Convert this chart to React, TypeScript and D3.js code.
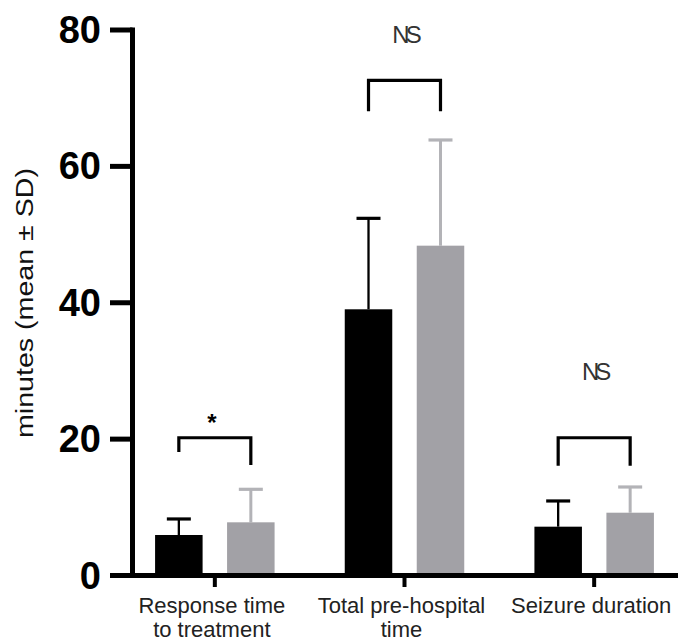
import React from "react";
import * as d3 from "d3";

// categories on the x axis (two lines each)
const categories = ["Response time to treatment", "Total pre-hospital time", "Seizure duration"];
const categoryLines = [
  ["Response time", "to treatment"],
  ["Total pre-hospital", "time"],
  ["Seizure duration"],
];

const series = ["group A", "group B"];
const meanA = [5.94, 39.04, 7.16];
const sdTopA = [8.29, 52.38, 10.93];
const meanB = [7.8, 48.37, 9.21];
const sdTopB = [12.64, 63.87, 12.98];

// significance brackets: top, left leg end, right leg end, label
const bracketTop = [20.2, 72.6, 20.2];
const bracketLeftEnd = [18.1, 68.1, 16.1];
const bracketRightEnd = [16.2, 68.1, 16.1];
const bracketLabel = ["*", "NS", "NS"];
const labelValue = [21.2, 78.1, 28.6];

const yTicks = [0, 20, 40, 60, 80];

const W = 678;
const H = 641;
const FONT = "'Liberation Sans', Arial, sans-serif";
const BAR_COLORS = ["#000000", "#a2a1a6"];
const ERR_COLORS = ["#000000", "#b3b3b7"];

export default function App() {
  const y = d3.scaleLinear().domain([0, 80]).range([575.5, 30]);
  const x = d3.scaleBand<string>().domain(categories).range([120, 689]);
  const xs = d3.scaleBand<string>().domain(series).range([-59.75, 59.75]).paddingInner(0.34);
  const bw = xs.bandwidth();

  const means = [meanA, meanB];
  const tops = [sdTopA, sdTopB];

  const cx = (c: string) => (x(c) as number) + x.bandwidth() / 2;
  const sx = (c: string, s: string) => cx(c) + (xs(s) as number) + bw / 2;

  return (
    <svg
      width={W}
      height={H}
      style={{ position: "absolute", left: 0, top: 0, background: "#fff" }}
      fontFamily={FONT}
    >
      {/* bars + error bars */}
      {categories.map((c, i) =>
        series.map((s, j) => {
          const x0 = cx(c) + (xs(s) as number);
          const mid = sx(c, s);
          return (
            <g key={`${c}-${s}`}>
              <line
                x1={mid}
                x2={mid}
                y1={y(means[j][i])}
                y2={y(tops[j][i])}
                stroke={ERR_COLORS[j]}
                strokeWidth={j === 0 ? 2.3 : 3}
              />
              <line
                x1={mid - 12}
                x2={mid + 12}
                y1={y(tops[j][i])}
                y2={y(tops[j][i])}
                stroke={ERR_COLORS[j]}
                strokeWidth={3.2}
              />
              <rect
                x={x0}
                y={y(means[j][i])}
                width={bw}
                height={y(0) - y(means[j][i])}
                fill={BAR_COLORS[j]}
              />
            </g>
          );
        })
      )}

      {/* brackets */}
      {categories.map((c, i) => {
        const l = sx(c, series[0]);
        const r = sx(c, series[1]);
        const p = `M${l},${y(bracketLeftEnd[i])}V${y(bracketTop[i])}H${r}V${y(bracketRightEnd[i])}`;
        const isStar = bracketLabel[i] === "*";
        return (
          <g key={`br-${c}`}>
            <path d={p} fill="none" stroke="#000" strokeWidth={3.2} />
            <text
              x={isStar ? (l + r) / 2 - 3 : (l + r) / 2 + 0.5}
              y={y(labelValue[i])}
              textAnchor="middle"
              fontSize={isStar ? 24 : 24}
              fontWeight={isStar ? "bold" : "normal"}
              letterSpacing={isStar ? 0 : -4}
              fill={isStar ? "#000" : "#333"}
            >
              {bracketLabel[i]}
            </text>
          </g>
        );
      })}

      {/* y axis */}
      <line x1={132.5} x2={132.5} y1={27.5} y2={578} stroke="#000" strokeWidth={5} />
      {yTicks.map((t) => (
        <g key={t}>
          <line x1={110} x2={132.5} y1={y(t)} y2={y(t)} stroke="#000" strokeWidth={5} />
          <text
            x={101}
            y={y(t) + 13}
            textAnchor="end"
            fontSize={38}
            fontWeight="bold"
            fill="#000"
          >
            {t}
          </text>
        </g>
      ))}
      <text
        transform={`translate(33, 303) rotate(-90)`}
        textAnchor="middle"
        fontSize={23}
        textLength={270}
        lengthAdjust="spacingAndGlyphs"
        fill="#111"
      >
        minutes (mean ± SD)
      </text>

      {/* x axis */}
      <line x1={130} x2={678} y1={575.5} y2={575.5} stroke="#000" strokeWidth={5} />
      {categories.map((c, i) => (
        <g key={`xt-${c}`}>
          <line x1={cx(c)} x2={cx(c)} y1={575.5} y2={587} stroke="#000" strokeWidth={4} />
          <text textAnchor="middle" fontSize={22} fill="#222">
            {categoryLines[i].map((ln, k) => (
              <tspan key={k} x={cx(c) - 3} y={613 + k * 24}>
                {ln}
              </tspan>
            ))}
          </text>
        </g>
      ))}
    </svg>
  );
}
